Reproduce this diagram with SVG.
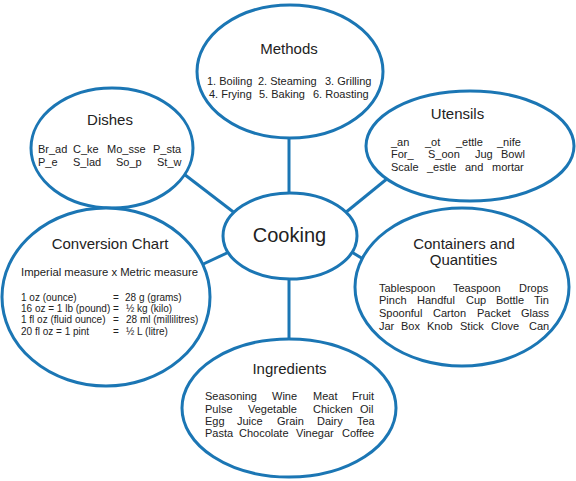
<svg xmlns="http://www.w3.org/2000/svg" width="576" height="481" viewBox="0 0 576 481">
<style>
.bub{fill:#fff;stroke:#1b76b4;stroke-width:3}
.con{stroke:#1b76b4;stroke-width:3;fill:none}
text{font-family:"Liberation Sans",Arial,sans-serif;fill:#222}
.t{font-size:15px;text-anchor:middle}
.b{font-size:11px}
.s{font-size:10px}
.c{font-size:20px;text-anchor:middle}
</style>
<rect width="576" height="481" fill="#fff"/>
<g id="connectors">
<line class="con" x1="289" y1="136" x2="289" y2="195"/>
<line class="con" x1="180" y1="171" x2="236" y2="214"/>
<line class="con" x1="388" y1="178" x2="345" y2="213"/>
<line class="con" x1="197" y1="267" x2="229" y2="252"/>
<line class="con" x1="350" y1="251" x2="368" y2="262"/>
<line class="con" x1="289" y1="277" x2="289" y2="341"/>
</g>
<g id="methods">
<ellipse class="bub" cx="290" cy="71.5" rx="93" ry="66.5"/>
<text class="t" x="289" y="54">Methods</text>
<text class="b" y="85"><tspan x="207">1. Boiling</tspan><tspan x="258">2. Steaming</tspan><tspan x="325">3. Grilling</tspan></text>
<text class="b" y="97.5"><tspan x="209">4. Frying</tspan><tspan x="259">5. Baking</tspan><tspan x="313">6. Roasting</tspan></text>
</g>
<g id="dishes">
<ellipse class="bub" cx="112" cy="148" rx="81" ry="60"/>
<text class="t" x="110" y="125">Dishes</text>
<text class="b" y="153"><tspan x="38">Br_ad</tspan><tspan x="73">C_ke</tspan><tspan x="107">Mo_sse</tspan><tspan x="153">P_sta</tspan></text>
<text class="b" y="166"><tspan x="38">P_e</tspan><tspan x="73">S_lad</tspan><tspan x="116">So_p</tspan><tspan x="157">St_w</tspan></text>
</g>
<g id="utensils">
<ellipse class="bub" cx="470" cy="146" rx="104" ry="55"/>
<text class="t" x="457.5" y="119">Utensils</text>
<text class="b" y="145.5"><tspan x="391">_an</tspan><tspan x="425">_ot</tspan><tspan x="456">_ettle</tspan><tspan x="497">_nife</tspan></text>
<text class="b" y="158"><tspan x="391">For_</tspan><tspan x="428">S_oon</tspan><tspan x="475">Jug</tspan><tspan x="501">Bowl</tspan></text>
<text class="b" y="171"><tspan x="391">Scale</tspan><tspan x="427">_estle</tspan><tspan x="465">and</tspan><tspan x="492">mortar</tspan></text>
</g>
<g id="conversion">
<ellipse class="bub" cx="106" cy="297" rx="104" ry="89"/>
<text class="t" x="110" y="249">Conversion Chart</text>
<text class="b" x="21" y="275.5" style="font-size:11.3px">Imperial measure x Metric measure</text>
<text class="s" y="301"><tspan x="21">1 oz (ounce)</tspan><tspan x="113">=</tspan><tspan x="125">28 g (grams)</tspan></text>
<text class="s" y="312"><tspan x="21">16 oz = 1 lb (pound) =</tspan><tspan x="126">½ kg (kilo)</tspan></text>
<text class="s" y="323"><tspan x="21">1 fl oz (fluid ounce)</tspan><tspan x="113">=</tspan><tspan x="126">28 ml (millilitres)</tspan></text>
<text class="s" y="334.5"><tspan x="21">20 fl oz = 1 pint</tspan><tspan x="113">=</tspan><tspan x="126">½ L (litre)</tspan></text>
</g>
<g id="containers">
<ellipse class="bub" cx="462" cy="287" rx="107" ry="79"/>
<text class="t" x="464" y="248.5">Containers and</text>
<text class="t" x="463.5" y="265">Quantities</text>
<text class="b" y="291.5"><tspan x="379">Tablespoon</tspan><tspan x="453">Teaspoon</tspan><tspan x="519">Drops</tspan></text>
<text class="b" y="304"><tspan x="379">Pinch</tspan><tspan x="417">Handful</tspan><tspan x="466">Cup</tspan><tspan x="496">Bottle</tspan><tspan x="534">Tin</tspan></text>
<text class="b" y="316.5"><tspan x="379">Spoonful</tspan><tspan x="433">Carton</tspan><tspan x="477">Packet</tspan><tspan x="521">Glass</tspan></text>
<text class="b" y="329.5"><tspan x="379">Jar</tspan><tspan x="401">Box</tspan><tspan x="427">Knob</tspan><tspan x="460">Stick</tspan><tspan x="491">Clove</tspan><tspan x="529">Can</tspan></text>
</g>
<g id="ingredients">
<ellipse class="bub" cx="289" cy="408" rx="107" ry="69"/>
<text class="t" x="289.5" y="373.5">Ingredients</text>
<text class="b" y="400"><tspan x="205">Seasoning</tspan><tspan x="272">Wine</tspan><tspan x="313">Meat</tspan><tspan x="352">Fruit</tspan></text>
<text class="b" y="412.5"><tspan x="205">Pulse</tspan><tspan x="248">Vegetable</tspan><tspan x="313">Chicken</tspan><tspan x="360">Oil</tspan></text>
<text class="b" y="424.5"><tspan x="205">Egg</tspan><tspan x="237">Juice</tspan><tspan x="277">Grain</tspan><tspan x="317">Dairy</tspan><tspan x="357">Tea</tspan></text>
<text class="b" y="437"><tspan x="205">Pasta</tspan><tspan x="239">Chocolate</tspan><tspan x="296">Vinegar</tspan><tspan x="342">Coffee</tspan></text>
</g>
<g id="cooking">
<ellipse class="bub" cx="290" cy="236" rx="67" ry="43"/>
<text class="c" x="289.5" y="242">Cooking</text>
</g>
</svg>
